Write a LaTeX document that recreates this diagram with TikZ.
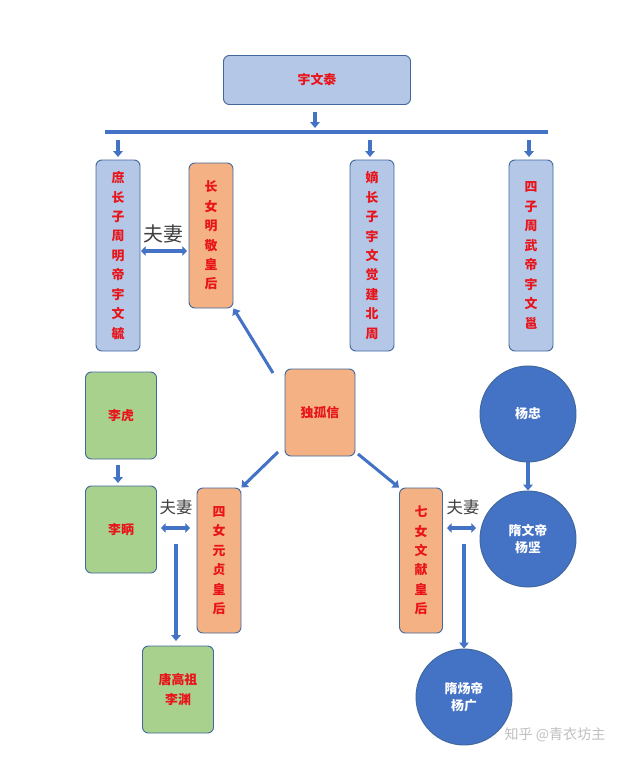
\documentclass[tikz,border=0pt]{standalone}
\usepackage{fontspec}
\newfontfamily\cjk{Noto Sans CJK SC}
\usetikzlibrary{arrows.meta}
\definecolor{boxblue}{HTML}{B4C7E7}
\definecolor{boxorange}{HTML}{F4B183}
\definecolor{boxgreen}{HTML}{A9D18E}
\definecolor{edgeblue}{HTML}{41689C}
\definecolor{dotblue}{HTML}{4472C4}
\definecolor{txtred}{HTML}{E8141A}
\tikzset{
  box/.style={draw=edgeblue, line width=0.8pt, rounded corners=5pt, inner sep=0pt,
    font=\cjk\bfseries\fontsize{11}{16.6}\selectfont, text=txtred, align=center},
  blue box/.style={box, fill=boxblue},
  orange box/.style={box, fill=boxorange},
  green box/.style={box, fill=boxgreen},
  person/.style={circle, draw=edgeblue, line width=0.8pt, fill=dotblue, minimum size=96*0.03cm,
    inner sep=0pt, font=\cjk\bfseries\fontsize{11}{15}\selectfont, text=white, align=center},
  link/.style={draw=dotblue, line width=2.6pt, -{Triangle[width=8pt,length=5pt]}},
  spouse/.style={draw=dotblue, line width=2.6pt, {Triangle[width=8pt,length=4pt]}-{Triangle[width=8pt,length=4pt]}},
  marry/.style={font=\cjk\fontsize{14}{14}\selectfont, text=black!75}
}
\begin{document}
\begin{tikzpicture}[x=0.03cm, y=-0.03cm]
\useasboundingbox (0,0) rectangle (640,761);

% top
\node[blue box, minimum width=187*0.03cm, minimum height=49*0.03cm] (tai) at (317,80) {宇文泰};
\coordinate (barL) at (105,132);
\coordinate (barR) at (548,132);
\draw[dotblue, line width=4pt] (barL) -- (barR);
\coordinate (barin) at (315,128);
\draw[link] (315,112) -- (barin);

% sons and daughter
\node[blue box, minimum width=44*0.03cm, minimum height=191*0.03cm] (yu) at (118,255.5) {庶\\长\\子\\周\\明\\帝\\宇\\文\\毓};
\node[orange box, minimum width=44*0.03cm, minimum height=145*0.03cm] (mingjing) at (211,235.5) {长\\女\\明\\敬\\皇\\后};
\node[blue box, minimum width=44*0.03cm, minimum height=191*0.03cm] (jue) at (372,255.5) {嫡\\长\\子\\宇\\文\\觉\\建\\北\\周};
\node[blue box, minimum width=44*0.03cm, minimum height=191*0.03cm] (yong) at (531,255.5) {四\\子\\周\\武\\帝\\宇\\文\\邕};
\foreach \c/\x in {yu/118, jue/370, yong/529} {
  \coordinate (top\c) at (\x,140);
  \draw[link] (top\c) -- (\x,157);
}
\draw[spouse] (141,251) -- (187,251);
\node[marry, font=\cjk\fontsize{17}{17}\selectfont] (m1) at (163,234) {夫妻};

% Dugu Xin
\node[orange box, minimum width=70*0.03cm, minimum height=87*0.03cm] (dugu) at (320,412.5) {独孤信};
\draw[link] (273,373) -- (mingjing.south east);

% Li family
\node[green box, minimum width=71*0.03cm, minimum height=87*0.03cm] (lihu) at (121,415.5) {李虎};
\node[green box, minimum width=71*0.03cm, minimum height=87*0.03cm] (libing) at (121,529.5) {李昞};
\node[green box, minimum width=71*0.03cm, minimum height=87*0.03cm] (liyuan) at (178,689.5) {唐高祖\\李渊};
\node[orange box, minimum width=44*0.03cm, minimum height=145*0.03cm] (yuanzhen) at (219,560.5) {四\\女\\元\\贞\\皇\\后};
\draw[link] (118,465) -- (118,483);
\draw[link] (278,452) -- (yuanzhen.north east);
\draw[spouse] (161,528) -- (190,528);
\node[marry] (m2) at (176,507) {夫妻};
\draw[link] (176,544) -- (176,641);

% Yang family
\node[orange box, minimum width=43*0.03cm, minimum height=145*0.03cm] (wenxian) at (421,560.5) {七\\女\\文\\献\\皇\\后};
\node[person] (zhong) at (528,414) {杨忠};
\node[person] (jian) at (528,539) {隋文帝\\杨坚};
\node[person] (guang) at (464,697) {隋炀帝\\杨广};
\draw[link] (358,454) -- (wenxian.north west);
\draw[link] (zhong) -- (jian);
\draw[spouse] (447,528) -- (476,528);
\node[marry] (m3) at (463,507) {夫妻};
\draw[link] (464,544) -- (guang);

% watermark
\node[font=\cjk\fontsize{12}{12}\selectfont, text=black!25] (mark) at (555,735) {知乎 @青衣坊主};
\end{tikzpicture}
\end{document}
